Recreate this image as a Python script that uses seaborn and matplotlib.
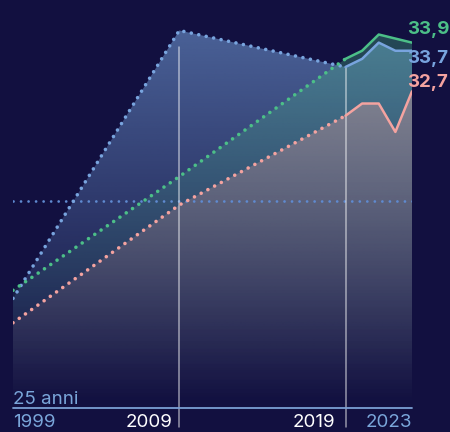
import numpy as np
import pandas as pd
import matplotlib
matplotlib.use("Agg")
import matplotlib.pyplot as plt
import matplotlib.colors as mcolors
from matplotlib.patches import PathPatch
import seaborn as sns

# ----------------------------------------------------------------------
# Data
# ----------------------------------------------------------------------
YEARS = [1999, 2009, 2019, 2020, 2021, 2022, 2023]
BLUE_VALS = [27.6, 34.2, 33.3, 33.5, 33.9, 33.7, 33.7]
GREEN_VALS = [27.8, 30.6, 33.5, 33.7, 34.1, 34.0, 33.9]
PINK_VALS = [27.0, 29.9, 32.1, 32.4, 32.4, 31.7, 32.7]
N_GAP = 3          # first points are joined by dotted lines (sparse data)
REF_VALUE = 30.0   # horizontal reference line
MARK_YEARS = [2009, 2019]
MARK_TOPS = [33.8, 33.3]
TICK_LABELS = ["1999", "2009", "2019", "2023"]
END_LABELS = ["33,9", "33,7", "32,7"]
Y_MIN, Y_MAX = 24.9, 34.95

# ----------------------------------------------------------------------
# Style
# ----------------------------------------------------------------------
BG = "#121040"
BLUE = "#78a4de"
GREEN = "#4cbf88"
PINK = "#f4a3a0"
TXT_BLUE = "#7aa6da"
AXIS_BLUE = "#7b9fd4"

sns.set_theme(style="dark", rc={"axes.facecolor": BG, "figure.facecolor": BG})
plt.rcParams["font.family"] = ["Inter", "DejaVu Sans"]

fig = plt.figure(figsize=(4.5, 4.32), dpi=100)
ax = fig.add_axes([13 / 450, 24 / 432, 399 / 450, 408 / 432])
px_per_unit = 408 / (Y_MAX - Y_MIN)

series = [(BLUE_VALS, BLUE, 0.60), (GREEN_VALS, GREEN, 0.36), (PINK_VALS, PINK, 0.46)]


def gradient_fill(x, y, color, a_top, z):
    coll = ax.fill_between(x, y, Y_MIN, facecolor="none", edgecolor="none")
    path = coll.get_paths()[0]
    h = 400
    frac = np.linspace(1, 0, h)
    img = np.zeros((h, 1, 4))
    img[:, 0, :3] = mcolors.to_rgb(color)
    img[:, 0, 3] = a_top * frac ** 1.1
    im = ax.imshow(img, aspect="auto", extent=[YEARS[0], YEARS[-1], Y_MIN, Y_MAX],
                   origin="upper", zorder=z, interpolation="bilinear")
    patch = PathPatch(path, transform=ax.transData, facecolor="none", edgecolor="none")
    ax.add_patch(patch)
    im.set_clip_path(patch)


for i, (vals, col, a) in enumerate(series):
    gradient_fill(YEARS, vals, col, a, 1 + i)

# reference line
ax.axhline(REF_VALUE, color="#5f8ad0", lw=2.0, linestyle=(0, (0.01, 2.7)),
           dash_capstyle="round", zorder=5)

# vertical marks
for yr, top in zip(MARK_YEARS, MARK_TOPS):
    ax.plot([yr, yr], [Y_MIN - 19 / px_per_unit, top], color="white", alpha=0.55,
            lw=1.1, clip_on=False, zorder=6)

# lines: dotted where data is sparse, solid for the yearly part
for vals, col, _ in series:
    df = pd.DataFrame({"year": YEARS, "value": vals})
    ln = sns.lineplot(data=df.iloc[:N_GAP], x="year", y="value", ax=ax, color=col,
                      zorder=8).lines[-1]
    ln.set_linewidth(2.6)
    ln.set_linestyle((0, (0.01, 2.1)))
    ln.set_dash_capstyle("round")
    sns.lineplot(data=df.iloc[N_GAP - 1:], x="year", y="value", ax=ax, color=col,
                 linewidth=1.8, zorder=8)

ax.set_xlim(YEARS[0], YEARS[-1])
ax.set_ylim(Y_MIN, Y_MAX)
ax.axis("off")

# baseline axis
ax.plot([YEARS[0], YEARS[-1]], [Y_MIN, Y_MIN], color=AXIS_BLUE, lw=1.3,
        clip_on=False, zorder=9)

# tick labels
xt = ax.get_xaxis_transform()
base = -19 / 408
fs = 13.5
ax.text(YEARS[0], base, TICK_LABELS[0], transform=xt, ha="left", va="baseline",
        color=TXT_BLUE, fontsize=fs)
ax.annotate(TICK_LABELS[1], (MARK_YEARS[0], base), xycoords=xt, xytext=(-5, 0),
            textcoords="offset points", ha="right", va="baseline", color="white", fontsize=fs)
ax.annotate(TICK_LABELS[2], (MARK_YEARS[1], base), xycoords=xt, xytext=(-7.5, 0),
            textcoords="offset points", ha="right", va="baseline", color="white", fontsize=fs)
ax.text(YEARS[-1], base, TICK_LABELS[3], transform=xt, ha="right", va="baseline",
        color=TXT_BLUE, fontsize=fs)
ax.text(YEARS[0], 4 / 408, "25 anni", transform=xt, ha="left", va="baseline",
        color=TXT_BLUE, fontsize=fs)

# end labels (green, blue, pink from top to bottom)
order = [series[1], series[0], series[2]]
offsets = [9.5, -5.5, 6.5]
for (vals, col, _), lab, off in zip(order, END_LABELS, offsets):
    ax.annotate(lab, (YEARS[-1], vals[-1]), xytext=(-3.5, off), textcoords="offset points",
                ha="left", va="center", color=col, fontsize=13.5, fontweight="bold",
                annotation_clip=False)

fig.savefig("out.png", dpi=100, facecolor=BG)
